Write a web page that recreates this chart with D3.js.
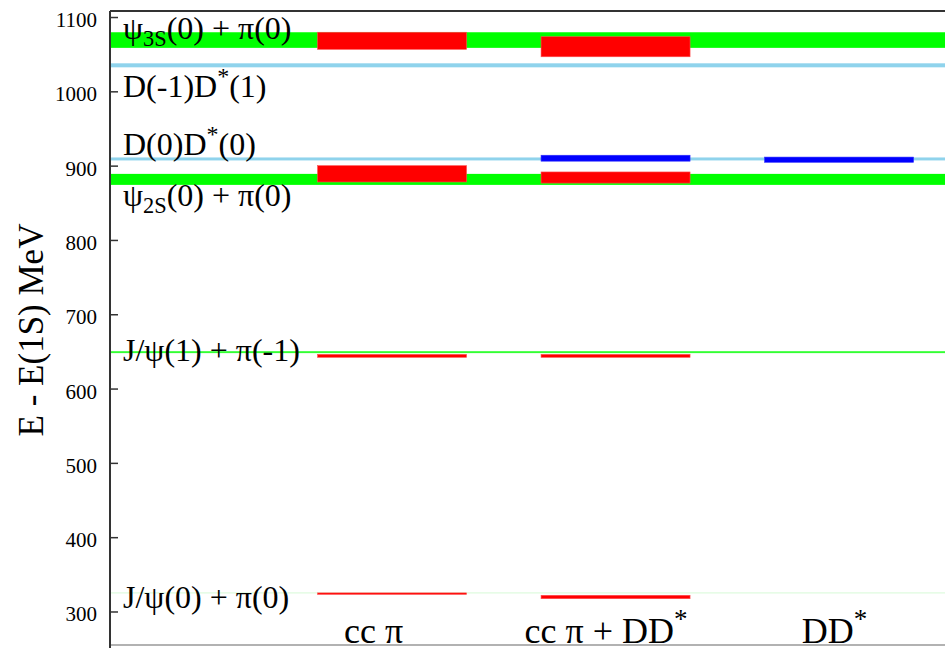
<!DOCTYPE html>
<html>
<head>
<meta charset="utf-8">
<script src="https://cdn.jsdelivr.net/npm/d3@7/dist/d3.min.js"></script>
<style>
  html, body { margin: 0; padding: 0; background: #fff; }
  svg { display: block; }
  svg text { font-family: "Liberation Serif", "DejaVu Serif", serif !important; fill: #000; }
</style>
</head>
<body>
<svg id="chart" width="945" height="648"></svg>
<script>
// ---------------- data ----------------
const categories = ["cc π", "cc π + DD^{*}", "DD^{*}"];

// thresholds (horizontal bands across the whole plot): centre and half-width in MeV
const thresholdLabels = ["ψ_{3S}(0) + π(0)", "D(-1)D^{*}(1)", "D(0)D^{*}(0)", "ψ_{2S}(0) + π(0)", "J/ψ(1) + π(-1)", "J/ψ(0) + π(0)"];
const thresholdValues = [1069, 1035, 909, 881.5, 649, 325];
const thresholdErrors = [10.5, 2.7, 2.0, 7.4, 1.3, 0.7];
const thresholdKinds  = ["psi", "dd", "dd", "psi", "jpsi", "jpsi0"];

// energy levels per category (column index), centre and half-width in MeV
const levelColumn = [0, 0, 0, 0, 1, 1, 1, 1, 1, 2];
const levelValues = [1068, 889, 644, 324, 1060, 910, 884, 644, 319.5, 908];
const levelErrors = [11.5, 11, 2.0, 1.0, 13.5, 4.0, 7.5, 2.0, 2.3, 3.5];
const levelKinds  = ["cc", "cc", "cc", "cc", "cc", "dd", "cc", "cc", "cc", "dd"];

const yTicks = [300, 400, 500, 600, 700, 800, 900, 1000, 1100];
const yTitle = "E - E(1S) MeV";

// ---------------- layout / style ----------------
const W = 945, H = 648;
const M = { left: 110, right: 945, top: 11, bottom: 645 };
const bandColor = { psi: "#00ff00", dd: "#8fd3ec", jpsi: "#33ff33", jpsi0: "#d8fbd8" };
const levelColor = { cc: "#ff0000", dd: "#0000ff" };
const labelDy = [-1.5, 32, -4, 26.5, 9, 15];
const catDx = [-18.5, -9.5, -4.5];

const svg = d3.select("#chart");

const y = d3.scaleLinear()
  .domain([254.9, 1108.1])
  .range([M.bottom, M.top]);
const x = d3.scaleLinear()
  .domain([-0.262, 3.474])
  .range([M.left, M.right]);

// rich text helper: _{sub}  ^{sup}
function rich(sel, str, size) {
  const re = /([_^])\{([^}]*)\}/g;
  let last = 0, m, shift = 0;
  const parts = [];
  while ((m = re.exec(str)) !== null) {
    if (m.index > last) parts.push({ t: str.slice(last, m.index), k: "n" });
    parts.push({ t: m[2], k: m[1] === "_" ? "sub" : "sup" });
    last = re.lastIndex;
  }
  if (last < str.length) parts.push({ t: str.slice(last), k: "n" });
  parts.forEach(p => {
    const ts = sel.append("tspan").text(p.t);
    let target = 0;
    if (p.k === "sub") { ts.attr("font-size", size * 0.7); target = size * 0.22; }
    else if (p.k === "sup") { ts.attr("font-size", size * 0.75); target = -size * 0.42; }
    ts.attr("dy", target - shift);
    shift = target;
  });
}

// threshold bands
const g = svg.append("g");
g.selectAll("rect.band")
  .data(thresholdValues)
  .join("rect")
  .attr("class", "band")
  .attr("x", M.left)
  .attr("width", M.right - M.left)
  .attr("y", (d, i) => y(d + thresholdErrors[i]))
  .attr("height", (d, i) => Math.max(1, y(d - thresholdErrors[i]) - y(d + thresholdErrors[i])))
  .attr("fill", (d, i) => bandColor[thresholdKinds[i]]);

// levels
g.selectAll("rect.level")
  .data(levelValues)
  .join("rect")
  .attr("class", "level")
  .attr("x", (d, i) => x(levelColumn[i] + 1 - 1 / 3))
  .attr("width", (d, i) => x(levelColumn[i] + 1 + 1 / 3) - x(levelColumn[i] + 1 - 1 / 3))
  .attr("y", (d, i) => y(d + levelErrors[i]))
  .attr("height", (d, i) => Math.max(1.2, y(d - levelErrors[i]) - y(d + levelErrors[i])))
  .attr("fill", (d, i) => levelColor[levelKinds[i]])
  .attr("stroke", (d, i) => levelKinds[i] === "cc" ? "#ff5050" : "#3030ff")
  .attr("stroke-width", 0.6);

// threshold labels
thresholdLabels.forEach((lab, i) => {
  const t = svg.append("text")
    .attr("x", 123)
    .attr("y", y(thresholdValues[i]) + labelDy[i])
    .attr("font-size", 32);
  rich(t, lab, 32);
});

// frame
svg.append("line").attr("x1", M.left).attr("x2", M.right).attr("y1", M.top).attr("y2", M.top)
  .attr("stroke", "#333").attr("stroke-width", 2);
svg.append("line").attr("x1", M.left).attr("x2", M.right).attr("y1", M.bottom).attr("y2", M.bottom)
  .attr("stroke", "#999").attr("stroke-width", 1.5);

// y axis
const yAxis = d3.axisLeft(y).tickValues(yTicks).tickSize(-8).tickPadding(0).tickFormat(d3.format("d"));
const ya = svg.append("g").attr("transform", `translate(${M.left},0)`).call(yAxis);
ya.attr("font-family", null);
ya.select(".domain").attr("stroke", "#333").attr("stroke-width", 2)
  .attr("d", `M0,${M.top}V${H}`);
ya.selectAll(".tick line").attr("stroke", "#333").attr("stroke-width", 1.5);
ya.selectAll(".tick text")
  .attr("x", -13)
  .attr("dy", "0.45em")
  .attr("font-size", 21)
  .attr("fill", "#000");

// y title
svg.append("text")
  .attr("transform", `translate(43,330) rotate(-90)`)
  .attr("text-anchor", "middle")
  .attr("font-size", 35)
  .text(yTitle);

// category labels
categories.forEach((c, i) => {
  const t = svg.append("text")
    .attr("x", x(i + 1) + catDx[i])
    .attr("y", 643)
    .attr("text-anchor", "middle")
    .attr("font-size", 36);
  rich(t, c, 36);
});
</script>
</body>
</html>
